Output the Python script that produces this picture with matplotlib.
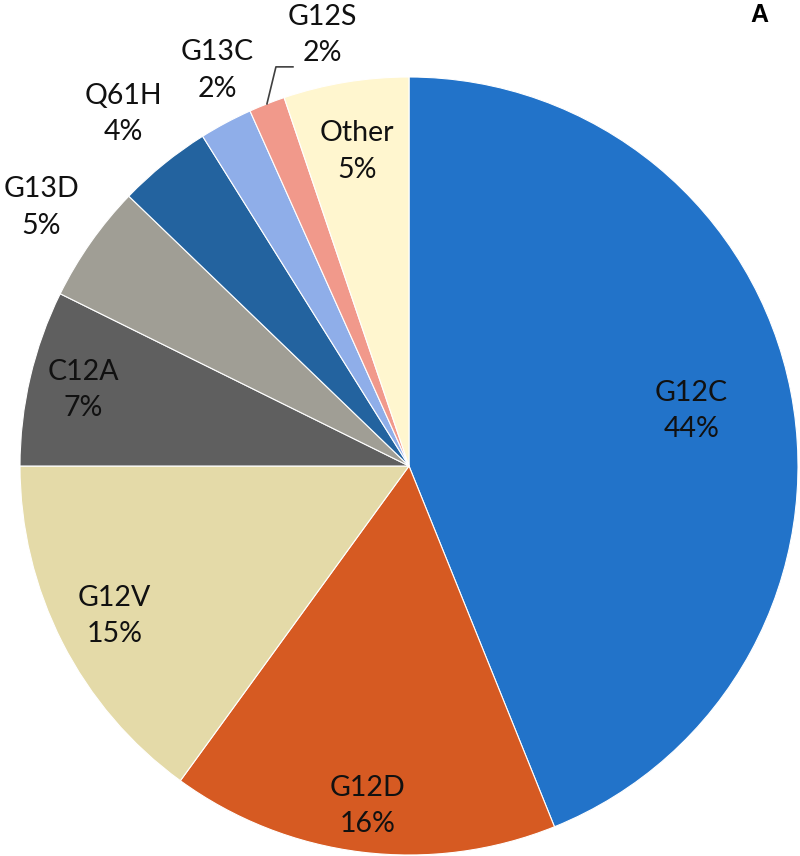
import numpy as np
import matplotlib
matplotlib.use("Agg")
import matplotlib.pyplot as plt

# KRAS mutation subtypes, clockwise from 12 o'clock
labels = ["G12C", "G12D", "G12V", "C12A", "G13D", "Q61H", "G13C", "G12S", "Other"]
shares = [43.9, 16.1, 15.0, 7.3, 4.9, 3.9, 2.2, 1.5, 5.2]
pct_text = ["44%", "16%", "15%", "7%", "5%", "4%", "2%", "2%", "5%"]
colors = ["#2273C9", "#D65A22", "#E4DAA8", "#5F5F5F", "#A09E95",
          "#23639F", "#8FAEE9", "#F1998B", "#FFF6CF"]

# label placement: radius as fraction of pie radius, angle shift (deg) from slice middle
label_r = [0.74, 0.88, 0.85, 0.86, 1.155, 1.165, 1.13, 1.13, 0.82]
label_shift = [0, 0, 0, 0, 0, 0, 2.2, 10.0, 0]

W, H = 800, 856
fig = plt.figure(figsize=(W / 100, H / 100), dpi=100)
ax = fig.add_axes([0, 0, 1, 1])

cx, cy, R = 409, H - 466, 389
wedges, _ = ax.pie(shares, colors=colors, startangle=90, counterclock=False,
                   center=(cx, cy), radius=R, frame=True,
                   wedgeprops=dict(edgecolor="white", linewidth=0.8))
ax.set_xlim(0, W)
ax.set_ylim(0, H)
ax.set_aspect("equal")
ax.axis("off")

font = ["Lato", "DejaVu Sans"]
cum = np.cumsum([0] + shares)
for i, lab in enumerate(labels):
    mid = (cum[i] + shares[i] / 2) / 100 * 2 * np.pi  # clockwise from top
    ang = mid + np.deg2rad(label_shift[i])
    tx = cx + label_r[i] * R * np.sin(ang)
    ty = cy + label_r[i] * R * np.cos(ang)
    if lab == "G12S":
        # leader line from wedge edge to the label
        ex, ey = cx + R * np.sin(mid), cy + R * np.cos(mid)
        ax.plot([ex, ex + 9, ex + 26], [ey, ey + 37, ey + 37],
                color="#404040", lw=1.2)
    ax.text(tx, ty, f"{lab}\n{pct_text[i]}", ha="center", va="center",
            fontsize=20.5, family=font, linespacing=1.5, color="#111111")

ax.text(759, H - 15, "A", ha="center", va="center", fontsize=18,
        fontweight="bold", family=["Liberation Sans", "DejaVu Sans"])

fig.savefig("out.png", dpi=100, facecolor="white")
